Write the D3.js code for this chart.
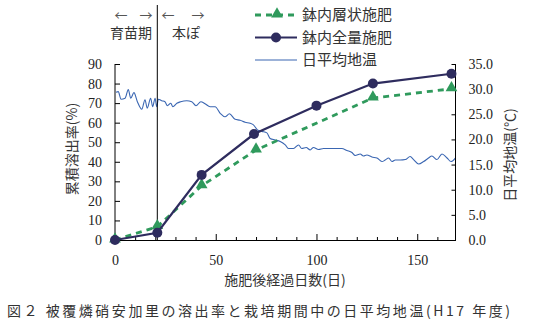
<!DOCTYPE html>
<html>
<head>
<meta charset="utf-8">
<script src="https://cdn.jsdelivr.net/npm/d3@7"></script>
<style>
  body { margin: 0; background: #fff; }
  svg { display: block; }
  .jp { font-family: "Noto Sans CJK JP", sans-serif; font-size: 14px; fill: #333; }
</style>
</head>
<body>
<svg id="chart" width="539" height="323"></svg>
<script>
// ---- data ----
const layerDays = [0, 21, 43, 70, 128, 167];       // 鉢内層状施肥
const layerValues = [0, 6.8, 27.7, 46, 72.6, 77.3];

const fullDays = [0, 21, 43, 69, 100, 128, 167];   // 鉢内全量施肥
const fullValues = [0, 3.7, 33.3, 54.2, 68.7, 80, 85];

// 日平均地温
const tempDays = [0.5, 1.6, 3, 5, 6.6, 7.8, 9.4, 11.1, 13.3, 14.9, 16, 17.7, 18.7, 19.9, 20.7,
  21.5, 23.2, 24.8, 26, 27.7, 28.7, 30.7, 32.6, 35.6, 38.1, 40.2, 42.6, 44.7, 47.2, 49.7,
  52.2, 54.6, 56.8, 59.6, 62.1, 64.6, 67.1, 68.7, 70.7, 72.9, 75.4, 77, 79.5, 82, 84.5,
  86.1, 88.6, 91.1, 92.7, 94.9, 96.9, 98.5, 101, 103.5, 106.8, 110.1, 112.6, 115.1, 117.6,
  119.2, 121.7, 123.3, 125, 127.5, 130, 132.5, 134.1, 135.8, 137.5, 139.1, 141.6, 144.1,
  146.5, 148.2, 150.7, 153.2, 155.6, 157.3, 159.8, 162.3, 164.8, 166.8, 168.9];
const tempValues = [29.4, 29.5, 28.0, 28.2, 29.9, 28.2, 29.3, 27.5, 26.0, 27.9, 26.2, 28.2, 26.5, 28.2, 26.5,
  28.0, 27.7, 27.5, 26.7, 27.2, 26.5, 27.2, 27.5, 27.7, 27.5, 26.7, 27.5, 27.1, 26.5, 26.5,
  25.2, 24.5, 25.1, 24.0, 23.8, 23.4, 23.2, 22.9, 21.9, 21.6, 21.3, 20.2, 19.9, 19.6, 18.9,
  18.2, 18.2, 18.9, 18.2, 18.4, 17.9, 18.4, 18.0, 18.2, 18.2, 18.2, 18.2, 17.8, 17.4,
  16.8, 17.1, 16.7, 16.9, 16.5, 16.3, 15.6, 15.9, 16.3, 15.6, 15.9, 15.9, 16.0,
  16.6, 16.0, 15.1, 15.6, 16.3, 16.7, 16.0, 17.1, 16.3, 15.6, 16.3];

const transplantDay = 21;
const leftTicks = [0, 10, 20, 30, 40, 50, 60, 70, 80, 90];
const rightTicks = [0, 5, 10, 15, 20, 25, 30, 35];
const xMajorTicks = [0, 50, 100, 150];
const xMinorTicks = [10, 20, 30, 40, 60, 70, 80, 90, 110, 120, 130, 140, 160];

const legendItems = [
  { label: "鉢内層状施肥", key: "layer" },
  { label: "鉢内全量施肥", key: "full" },
  { label: "日平均地温", key: "temp" }
];

const colors = { layer: "#2f9a5c", full: "#2e2c5e", temp: "#3a66b2" };
const numFont = '"Liberation Serif", "DejaVu Serif", serif';

// ---- scales ----
const svg = d3.select("#chart");
const x = d3.scaleLinear().domain([0, 169]).range([115, 455.5]);
const yL = d3.scaleLinear().domain([0, 90]).range([240, 64]);
const yR = d3.scaleLinear().domain([0, 35]).range([240, 64]);

// ---- temperature line ----
const tempLine = d3.line().x(d => x(d[0])).y(d => yR(d[1])).curve(d3.curveMonotoneX);
svg.append("path")
  .attr("d", tempLine(tempDays.map((d, i) => [d, tempValues[i]])))
  .attr("fill", "none")
  .attr("stroke", colors.temp)
  .attr("stroke-width", 1.1);

// transplant line
svg.append("line")
  .attr("x1", x(transplantDay)).attr("x2", x(transplantDay))
  .attr("y1", 5).attr("y2", 240)
  .attr("stroke", "#000").attr("stroke-width", 1);

// ---- axes ----
const gL = svg.append("g").attr("transform", `translate(${x(0)},0)`)
  .call(d3.axisLeft(yL).tickValues(leftTicks).tickSize(-5).tickPadding(13).tickSizeOuter(0));
const gR = svg.append("g").attr("transform", `translate(${x(169)},0)`)
  .call(d3.axisRight(yR).tickValues(rightTicks).tickFormat(d3.format(".1f")).tickSize(-4).tickPadding(13).tickSizeOuter(0));
const gB = svg.append("g").attr("transform", `translate(0,${yL(0)})`)
  .call(d3.axisBottom(x).tickValues(xMajorTicks).tickSize(-6).tickPadding(15).tickSizeOuter(0));
const gBm = svg.append("g").attr("transform", `translate(0,${yL(0)})`)
  .call(d3.axisBottom(x).tickValues(xMinorTicks).tickSize(-3).tickFormat("").tickSizeOuter(0));
gBm.select(".domain").remove();

[gL, gR, gB, gBm].forEach(g => {
  g.attr("font-family", null).attr("font-size", null);
  g.selectAll(".domain").attr("stroke", "#000");
  g.selectAll(".tick line").attr("stroke", "#000");
  g.selectAll("text")
    .style("font-family", numFont)
    .style("font-size", "14px")
    .attr("fill", "#222");
});
gL.select(".domain").attr("d", `M0,${yL(90)}V${yL(0)}`);
gR.select(".domain").attr("d", `M0,${yR(35)}V${yR(0)}`);

// ---- series ----
const lineL = d3.line().x((d, i) => x(layerDays[i])).y(d => yL(d));
svg.append("path")
  .attr("d", lineL(layerValues))
  .attr("fill", "none")
  .attr("stroke", colors.layer)
  .attr("stroke-width", 2.8)
  .attr("stroke-dasharray", "6,5");

const tri = d3.symbol().type(d3.symbolTriangle).size(60);
svg.selectAll(".tri").data(layerValues).enter().append("path")
  .attr("d", tri)
  .attr("transform", (d, i) => `translate(${x(layerDays[i])},${yL(d) - 1})`)
  .attr("fill", colors.layer);

const lineF = d3.line().x((d, i) => x(fullDays[i])).y(d => yL(d));
svg.append("path")
  .attr("d", lineF(fullValues))
  .attr("fill", "none")
  .attr("stroke", colors.full)
  .attr("stroke-width", 2.2);

svg.selectAll(".dot").data(fullValues).enter().append("circle")
  .attr("cx", (d, i) => x(fullDays[i]))
  .attr("cy", d => yL(d))
  .attr("r", 5)
  .attr("fill", colors.full);

// ---- legend ----
const lg = svg.append("g").attr("transform", "translate(255,15)");
legendItems.forEach((item, i) => {
  const row = lg.append("g").attr("transform", `translate(0,${i * 22.5})`);
  const ln = row.append("line").attr("x1", 0).attr("x2", 42).attr("y1", 0).attr("y2", 0)
    .attr("stroke", colors[item.key]);
  if (item.key === "layer") {
    ln.attr("stroke-width", 2.8).attr("stroke-dasharray", "6,5");
    row.append("path").attr("d", tri).attr("transform", "translate(22,-1)").attr("fill", colors.layer);
  } else if (item.key === "full") {
    ln.attr("stroke-width", 2.2);
    row.append("circle").attr("cx", 21).attr("cy", 0).attr("r", 5).attr("fill", colors.full);
  } else {
    ln.attr("stroke-width", 1.1);
  }
  row.append("text").attr("class", "jp").attr("x", 47).attr("y", 0).attr("dy", "0.36em")
    .style("font-size", "15px").text(item.label);
});

// ---- labels ----
svg.append("text").attr("class", "jp").attr("x", 285).attr("y", 280).attr("dy", "0.36em")
  .attr("text-anchor", "middle").text("施肥後経過日数(日)");

svg.append("text").attr("class", "jp")
  .attr("transform", "translate(72,149) rotate(-90)")
  .attr("text-anchor", "middle").attr("dy", "0.36em").text("累積溶出率(%)");

svg.append("text").attr("class", "jp")
  .attr("transform", "translate(510,155) rotate(-90)")
  .attr("text-anchor", "middle").attr("dy", "0.36em").text("日平均地温(℃)");

// period annotations
[["←", 121], ["→", 146], ["←", 168], ["→", 198]].forEach(a => {
  svg.append("text").attr("class", "jp").attr("x", a[1]).attr("y", 15).attr("dy", "0.36em")
    .attr("text-anchor", "middle").style("font-size", "13px").style("fill", "#555").text(a[0]);
});
svg.append("text").attr("class", "jp").attr("x", 131).attr("y", 33).attr("dy", "0.36em")
  .attr("text-anchor", "middle").text("育苗期");
svg.append("text").attr("class", "jp").attr("x", 186).attr("y", 33).attr("dy", "0.36em")
  .attr("text-anchor", "middle").text("本ぽ");

// caption
svg.append("text").attr("class", "jp").attr("x", 7).attr("y", 311).attr("dy", "0.36em")
  .attr("textLength", 503).attr("lengthAdjust", "spacing")
  .text("図２ 被覆燐硝安加里の溶出率と栽培期間中の日平均地温(H17 年度)");
</script>
</body>
</html>
